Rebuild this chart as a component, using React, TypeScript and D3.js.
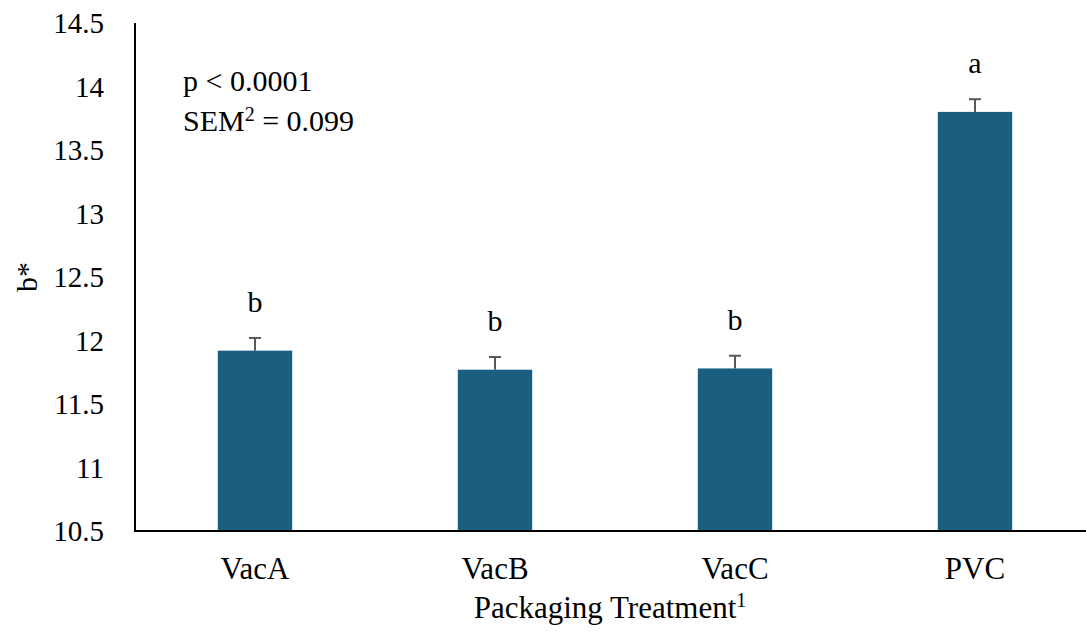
import React from "react";
import * as d3 from "d3";

const categories = ["VacA", "VacB", "VacC", "PVC"];
const values = [11.92, 11.77, 11.78, 13.8];
const errors = [0.1, 0.1, 0.1, 0.1];
const letters = ["b", "b", "b", "a"];
const yTicks = [10.5, 11, 11.5, 12, 12.5, 13, 13.5, 14, 14.5];

const W = 1086;
const H = 633;
const font = "Liberation Serif, Times New Roman, serif";

export default function App() {
  const x0 = 135, x1 = 1095, yTop = 23, yBot = 531;
  const x = d3.scaleBand<string>().domain(categories).range([x0, x1]).paddingInner(0.69).paddingOuter(0.345);
  const y = d3.scaleLinear().domain([10.5, 14.5]).range([yBot, yTop]);
  const bw = x.bandwidth();
  return (
    <svg width={W} height={H} style={{ position: "absolute", left: 0, top: 0, background: "#fff", fontFamily: font }}>
      {categories.map((c, i) => {
        const cx = (x(c) as number) + bw / 2;
        const top = y(values[i]);
        const et = y(values[i] + errors[i]);
        return (
          <g key={c}>
            <rect x={x(c)} y={top} width={bw} height={yBot - top} fill="#1a5e80" />
            <line x1={cx} x2={cx} y1={top} y2={et} stroke="#595959" strokeWidth={2} />
            <line x1={cx - 6} x2={cx + 6} y1={et} y2={et} stroke="#595959" strokeWidth={2} />
            <text x={cx} y={et - 26} textAnchor="middle" fontSize={30} fill="#000">{letters[i]}</text>
            <text x={cx} y={579} textAnchor="middle" fontSize={31} fill="#000">{c}</text>
          </g>
        );
      })}
      <line x1={x0} x2={x0} y1={yTop} y2={yBot} stroke="#000" strokeWidth={2} />
      <line x1={x0 - 1} x2={W} y1={yBot} y2={yBot} stroke="#000" strokeWidth={2} />
      {yTicks.map((t) => (
        <text key={t} x={104} y={y(t) + 10} textAnchor="end" fontSize={29} fill="#000">{t}</text>
      ))}
      <text transform={`translate(37,${(yTop + yBot) / 2}) rotate(-90)`} textAnchor="middle" fontSize={30} fill="#000">b*</text>
      <text x={610} y={618} textAnchor="middle" fontSize={31} fill="#000">
        Packaging Treatment<tspan fontSize={20} dy={-11}>1</tspan>
      </text>
      <text x={183} y={91} fontSize={30} fill="#000">p &lt; 0.0001</text>
      <text x={183} y={131} fontSize={30} fill="#000">
        SEM<tspan fontSize={20} dy={-10}>2</tspan><tspan dy={10}> = 0.099</tspan>
      </text>
    </svg>
  );
}
